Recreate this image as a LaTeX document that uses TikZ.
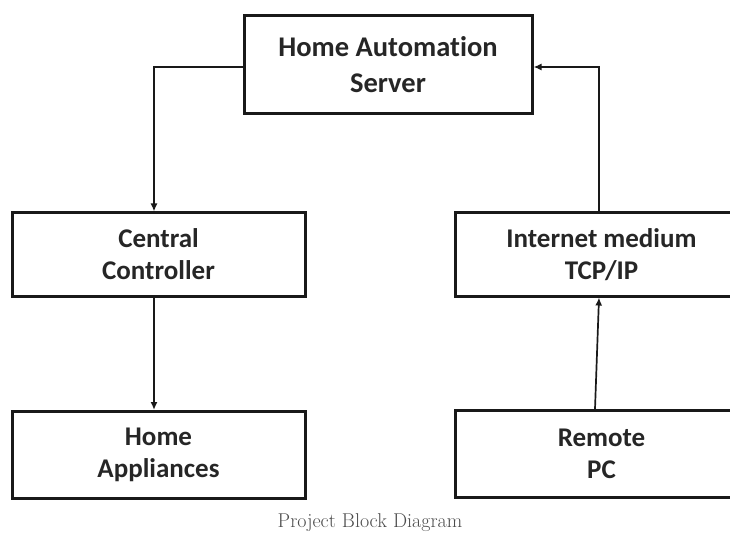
\documentclass[tikz,border=0pt]{standalone}
\usepackage{fontspec}
\newfontfamily\boxfont[Ligatures=NoCommon]{Carlito}
\usetikzlibrary{arrows.meta}
\begin{document}
\begin{tikzpicture}[x=1pt,y=-1pt,
  block/.style={draw=black!90,line width=3pt,fill=white,align=center,
    text=black!85,font=\boxfont\bfseries\fontsize{27}{32}\selectfont,
    minimum width=293pt,minimum height=85pt,inner sep=0pt},
  flow/.style={line width=1.7pt,draw=black!90,-{Latex[length=8pt,width=7pt]}}]
  \clip (0,0) rectangle (730,537);
  \fill[white] (0,0) rectangle (730,537);

  % blocks
  \node[block,minimum width=288pt,minimum height=98pt,
        font=\boxfont\bfseries\fontsize{28.5}{36}\selectfont]
        (srv) at (388,65) {Home Automation\\Server};
  \node[block,minimum height=83pt] (cc)   at (158.5,254.5) {Central\\Controller};
  \node[block,minimum height=87pt] (ha)   at (158.5,455) {Home\\Appliances};
  \node[block,minimum height=83pt] (inet) at (601.5,254.5) {Internet medium\\TCP/IP};
  \node[block,minimum height=87pt] (rpc)  at (601.5,454) {Remote\\PC};

  % connections
  \draw[flow] ([yshift=-2pt]srv.west) -| ([xshift=-4.5pt]cc.north);
  \draw[flow] ([xshift=-4.5pt]cc.south) -- ([xshift=-4.5pt]ha.north);
  \draw[flow] ([xshift=-6.5pt]rpc.north) -- ([xshift=-2.5pt]inet.south);
  \draw[flow] ([xshift=-2.5pt]inet.north) |- ([yshift=-2pt]srv.east);

  % caption
  \node[text=black!70,font=\fontsize{20}{24}\selectfont] (cap) at (370,523) {Project Block Diagram};
\end{tikzpicture}
\end{document}
